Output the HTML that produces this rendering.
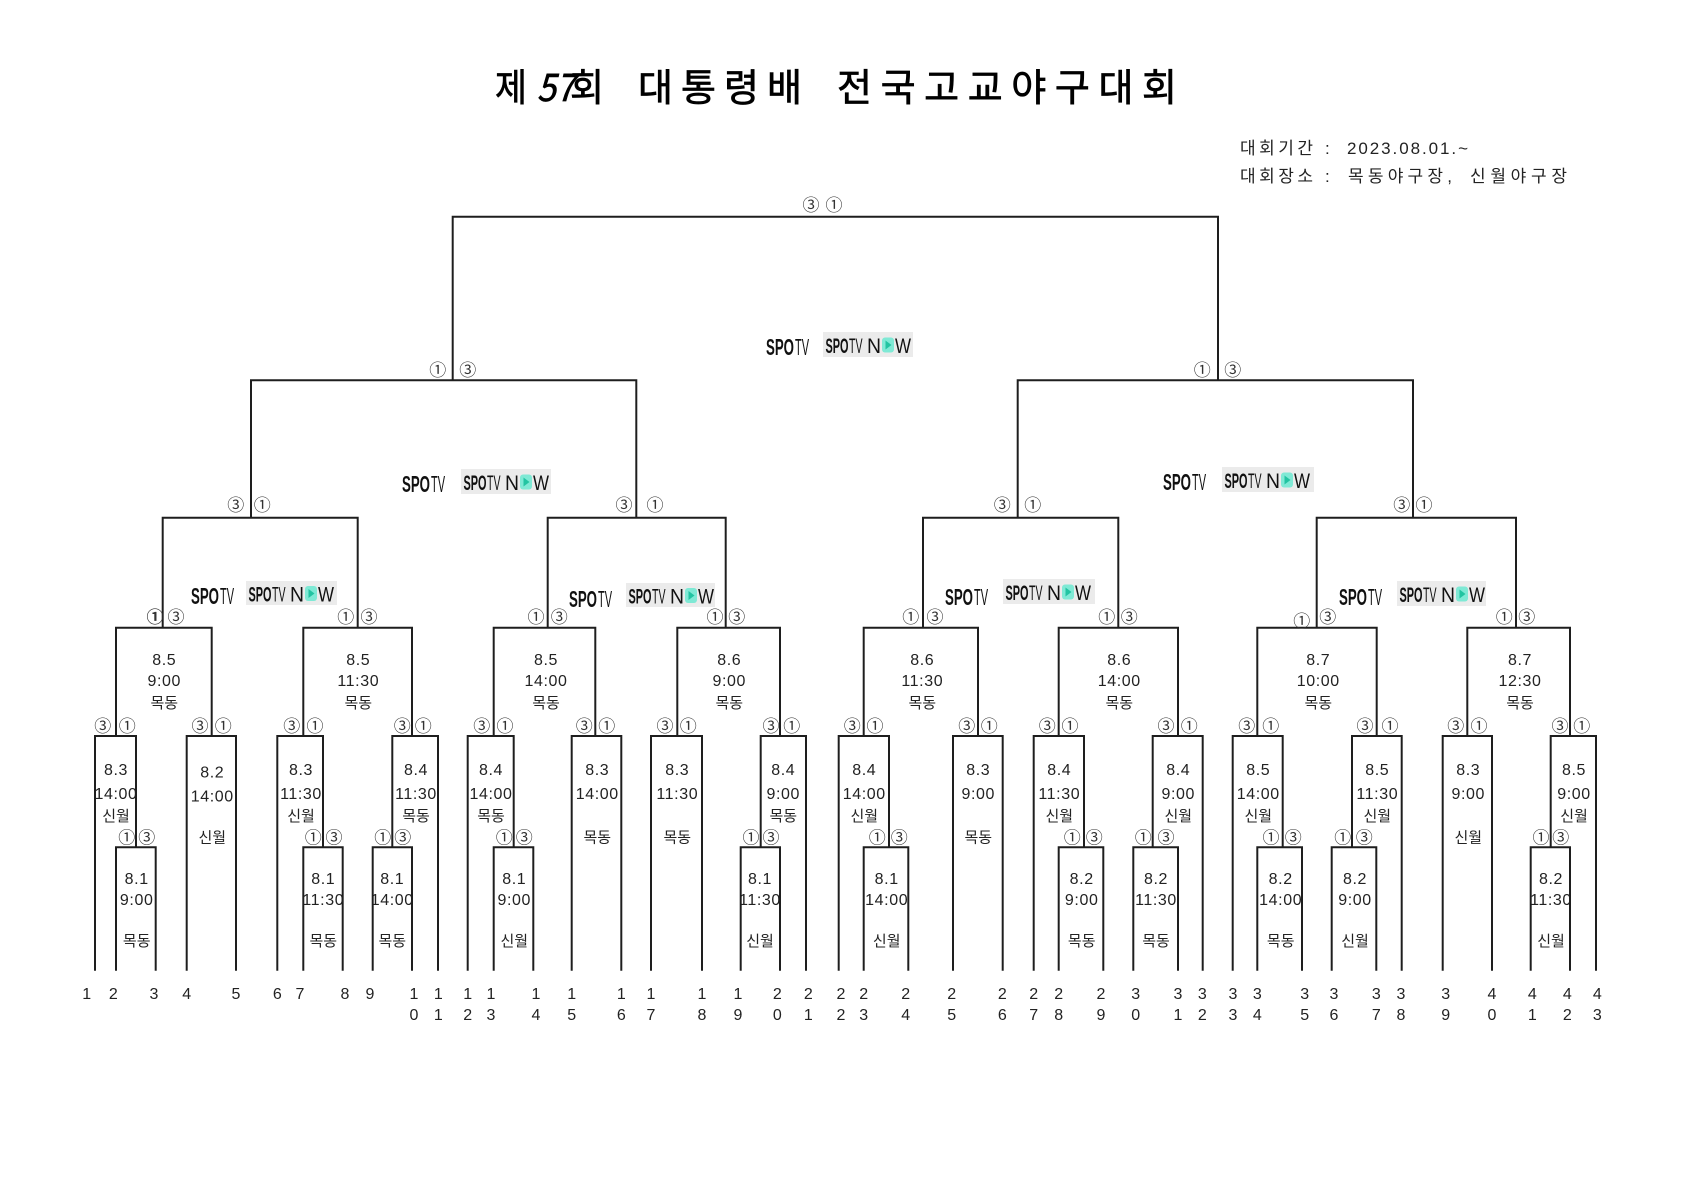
<!DOCTYPE html>
<html>
<head>
<meta charset="utf-8">
<style>
html,body{margin:0;padding:0;background:#fff;}
svg{display:block;}
.t{font-family:"Liberation Sans","Noto Sans CJK KR",sans-serif;font-size:16px;fill:#222;text-anchor:middle;letter-spacing:0.6px;}
.k{font-family:"Liberation Sans","Noto Sans CJK KR",sans-serif;font-size:15px;fill:#222;text-anchor:middle;}
.c{font-family:"Noto Sans CJK KR","Liberation Sans",sans-serif;font-size:17px;fill:#333;text-anchor:middle;}
.n{font-family:"Liberation Sans","Noto Sans CJK KR",sans-serif;font-size:16px;fill:#222;text-anchor:middle;}
.h{font-family:"Liberation Sans","Noto Sans CJK KR",sans-serif;font-size:17px;fill:#222;}
.ti{font-family:"Noto Sans CJK KR","Liberation Sans",sans-serif;font-size:38px;fill:#000;stroke:#000;stroke-width:0.7;}
.lg{font-family:"Liberation Sans Narrow","Liberation Sans",sans-serif;fill:#111;}
</style>
</head>
<body>
<svg width="1684" height="1191" viewBox="0 0 1684 1191" xmlns="http://www.w3.org/2000/svg">
<rect width="1684" height="1191" fill="#fff"/>

<!-- Title -->
<text class="ti" x="495" y="101" textLength="32" lengthAdjust="spacingAndGlyphs">제</text>
<text class="ti" x="537" y="101" textLength="38" lengthAdjust="spacingAndGlyphs" font-style="italic">57</text>
<text class="ti" x="570" y="101" textLength="34" lengthAdjust="spacingAndGlyphs">회</text>
<text class="ti" x="638" y="101" textLength="164" lengthAdjust="spacing">대통령배</text>
<text class="ti" x="837" y="101" textLength="340" lengthAdjust="spacing">전국고교야구대회</text>

<!-- Info -->
<text class="h" x="1240" y="154" textLength="73" lengthAdjust="spacing">대회기간</text>
<text class="h" x="1325" y="154">:</text>
<text class="h" x="1347" y="154" textLength="121" lengthAdjust="spacing">2023.08.01.~</text>
<text class="h" x="1240" y="182" textLength="73" lengthAdjust="spacing">대회장소</text>
<text class="h" x="1325" y="182">:</text>
<text class="h" x="1348" y="182" textLength="104" lengthAdjust="spacing">목동야구장,</text>
<text class="h" x="1470" y="182" textLength="97" lengthAdjust="spacing">신월야구장</text>

<!-- Logos -->
<g id="logos">
  <g transform="translate(766,338)">
    <text class="lg" x="0" y="17" font-size="23" font-weight="bold" textLength="28" lengthAdjust="spacingAndGlyphs">SPO</text>
    <text class="lg" x="29" y="17" font-size="23" textLength="14" lengthAdjust="spacingAndGlyphs">TV</text>
  </g>
  <g transform="translate(823,332)">
    <rect width="90" height="25" fill="#ebebeb"/>
    <text class="lg" x="2.5" y="21" font-size="21" font-weight="bold" textLength="23" lengthAdjust="spacingAndGlyphs">SPO</text>
    <text class="lg" x="26" y="21" font-size="21" textLength="13.5" lengthAdjust="spacingAndGlyphs">TV</text>
    <text class="lg" x="44" y="21" font-size="21" textLength="14" lengthAdjust="spacingAndGlyphs">N</text>
    <rect x="59" y="5.5" width="12" height="15" rx="3" fill="#7fe9d5"/>
    <path d="M62.5,8.5 L68.5,13 L62.5,17.5 Z" fill="#22c4a2"/>
    <text class="lg" x="72" y="21" font-size="21" textLength="16" lengthAdjust="spacingAndGlyphs">W</text>
  </g>
  <g transform="translate(402,475)">
    <text class="lg" x="0" y="17" font-size="23" font-weight="bold" textLength="28" lengthAdjust="spacingAndGlyphs">SPO</text>
    <text class="lg" x="29" y="17" font-size="23" textLength="14" lengthAdjust="spacingAndGlyphs">TV</text>
  </g>
  <g transform="translate(461,469)">
    <rect width="90" height="25" fill="#ebebeb"/>
    <text class="lg" x="2.5" y="21" font-size="21" font-weight="bold" textLength="23" lengthAdjust="spacingAndGlyphs">SPO</text>
    <text class="lg" x="26" y="21" font-size="21" textLength="13.5" lengthAdjust="spacingAndGlyphs">TV</text>
    <text class="lg" x="44" y="21" font-size="21" textLength="14" lengthAdjust="spacingAndGlyphs">N</text>
    <rect x="59" y="5.5" width="12" height="15" rx="3" fill="#7fe9d5"/>
    <path d="M62.5,8.5 L68.5,13 L62.5,17.5 Z" fill="#22c4a2"/>
    <text class="lg" x="72" y="21" font-size="21" textLength="16" lengthAdjust="spacingAndGlyphs">W</text>
  </g>
  <g transform="translate(1163,473)">
    <text class="lg" x="0" y="17" font-size="23" font-weight="bold" textLength="28" lengthAdjust="spacingAndGlyphs">SPO</text>
    <text class="lg" x="29" y="17" font-size="23" textLength="14" lengthAdjust="spacingAndGlyphs">TV</text>
  </g>
  <g transform="translate(1222,467)">
    <rect width="92" height="25" fill="#ebebeb"/>
    <text class="lg" x="2.5" y="21" font-size="21" font-weight="bold" textLength="23" lengthAdjust="spacingAndGlyphs">SPO</text>
    <text class="lg" x="26" y="21" font-size="21" textLength="13.5" lengthAdjust="spacingAndGlyphs">TV</text>
    <text class="lg" x="44" y="21" font-size="21" textLength="14" lengthAdjust="spacingAndGlyphs">N</text>
    <rect x="59" y="5.5" width="12" height="15" rx="3" fill="#7fe9d5"/>
    <path d="M62.5,8.5 L68.5,13 L62.5,17.5 Z" fill="#22c4a2"/>
    <text class="lg" x="72" y="21" font-size="21" textLength="16" lengthAdjust="spacingAndGlyphs">W</text>
  </g>
  <g transform="translate(191,587)">
    <text class="lg" x="0" y="17" font-size="23" font-weight="bold" textLength="28" lengthAdjust="spacingAndGlyphs">SPO</text>
    <text class="lg" x="29" y="17" font-size="23" textLength="14" lengthAdjust="spacingAndGlyphs">TV</text>
  </g>
  <g transform="translate(246,581)">
    <rect width="91" height="24" fill="#ebebeb"/>
    <text class="lg" x="2.5" y="20.5" font-size="21" font-weight="bold" textLength="23" lengthAdjust="spacingAndGlyphs">SPO</text>
    <text class="lg" x="26" y="20.5" font-size="21" textLength="13.5" lengthAdjust="spacingAndGlyphs">TV</text>
    <text class="lg" x="44" y="20.5" font-size="21" textLength="14" lengthAdjust="spacingAndGlyphs">N</text>
    <rect x="59" y="5" width="12" height="15" rx="3" fill="#7fe9d5"/>
    <path d="M62.5,8 L68.5,12.5 L62.5,17 Z" fill="#22c4a2"/>
    <text class="lg" x="72" y="20.5" font-size="21" textLength="16" lengthAdjust="spacingAndGlyphs">W</text>
  </g>
  <g transform="translate(569,590)">
    <text class="lg" x="0" y="17" font-size="23" font-weight="bold" textLength="28" lengthAdjust="spacingAndGlyphs">SPO</text>
    <text class="lg" x="29" y="17" font-size="23" textLength="14" lengthAdjust="spacingAndGlyphs">TV</text>
  </g>
  <g transform="translate(626,583)">
    <rect width="89" height="24" fill="#ebebeb"/>
    <text class="lg" x="2.5" y="20.5" font-size="21" font-weight="bold" textLength="23" lengthAdjust="spacingAndGlyphs">SPO</text>
    <text class="lg" x="26" y="20.5" font-size="21" textLength="13.5" lengthAdjust="spacingAndGlyphs">TV</text>
    <text class="lg" x="44" y="20.5" font-size="21" textLength="14" lengthAdjust="spacingAndGlyphs">N</text>
    <rect x="59" y="5" width="12" height="15" rx="3" fill="#7fe9d5"/>
    <path d="M62.5,8 L68.5,12.5 L62.5,17 Z" fill="#22c4a2"/>
    <text class="lg" x="72" y="20.5" font-size="21" textLength="16" lengthAdjust="spacingAndGlyphs">W</text>
  </g>
  <g transform="translate(945,588)">
    <text class="lg" x="0" y="17" font-size="23" font-weight="bold" textLength="28" lengthAdjust="spacingAndGlyphs">SPO</text>
    <text class="lg" x="29" y="17" font-size="23" textLength="14" lengthAdjust="spacingAndGlyphs">TV</text>
  </g>
  <g transform="translate(1003,579)">
    <rect width="92" height="25" fill="#ebebeb"/>
    <text class="lg" x="2.5" y="21" font-size="21" font-weight="bold" textLength="23" lengthAdjust="spacingAndGlyphs">SPO</text>
    <text class="lg" x="26" y="21" font-size="21" textLength="13.5" lengthAdjust="spacingAndGlyphs">TV</text>
    <text class="lg" x="44" y="21" font-size="21" textLength="14" lengthAdjust="spacingAndGlyphs">N</text>
    <rect x="59" y="5.5" width="12" height="15" rx="3" fill="#7fe9d5"/>
    <path d="M62.5,8.5 L68.5,13 L62.5,17.5 Z" fill="#22c4a2"/>
    <text class="lg" x="72" y="21" font-size="21" textLength="16" lengthAdjust="spacingAndGlyphs">W</text>
  </g>
  <g transform="translate(1339,588)">
    <text class="lg" x="0" y="17" font-size="23" font-weight="bold" textLength="28" lengthAdjust="spacingAndGlyphs">SPO</text>
    <text class="lg" x="29" y="17" font-size="23" textLength="14" lengthAdjust="spacingAndGlyphs">TV</text>
  </g>
  <g transform="translate(1397,581)">
    <rect width="89" height="25" fill="#ebebeb"/>
    <text class="lg" x="2.5" y="21" font-size="21" font-weight="bold" textLength="23" lengthAdjust="spacingAndGlyphs">SPO</text>
    <text class="lg" x="26" y="21" font-size="21" textLength="13.5" lengthAdjust="spacingAndGlyphs">TV</text>
    <text class="lg" x="44" y="21" font-size="21" textLength="14" lengthAdjust="spacingAndGlyphs">N</text>
    <rect x="59" y="5.5" width="12" height="15" rx="3" fill="#7fe9d5"/>
    <path d="M62.5,8.5 L68.5,13 L62.5,17.5 Z" fill="#22c4a2"/>
    <text class="lg" x="72" y="21" font-size="21" textLength="16" lengthAdjust="spacingAndGlyphs">W</text>
  </g>
</g>

<!-- Box texts: C level -->
<g>
<text class="t" x="164.3" y="665">8.5</text><text class="t" x="164.3" y="686">9:00</text><text class="k" x="164.3" y="708">목동</text>
<text class="t" x="358.3" y="665">8.5</text><text class="t" x="358.3" y="686">11:30</text><text class="k" x="358.3" y="708">목동</text>
<text class="t" x="546" y="665">8.5</text><text class="t" x="546" y="686">14:00</text><text class="k" x="546" y="708">목동</text>
<text class="t" x="729.3" y="665">8.6</text><text class="t" x="729.3" y="686">9:00</text><text class="k" x="729.3" y="708">목동</text>
<text class="t" x="922.3" y="665">8.6</text><text class="t" x="922.3" y="686">11:30</text><text class="k" x="922.3" y="708">목동</text>
<text class="t" x="1119.3" y="665">8.6</text><text class="t" x="1119.3" y="686">14:00</text><text class="k" x="1119.3" y="708">목동</text>
<text class="t" x="1318.3" y="665">8.7</text><text class="t" x="1318.3" y="686">10:00</text><text class="k" x="1318.3" y="708">목동</text>
<text class="t" x="1520" y="665">8.7</text><text class="t" x="1520" y="686">12:30</text><text class="k" x="1520" y="708">목동</text>
</g>

<!-- B level type 1 -->
<g>
<text class="t" x="116" y="775">8.3</text><text class="t" x="116" y="799">14:00</text><text class="k" x="116" y="821">신월</text>
<text class="t" x="301" y="775">8.3</text><text class="t" x="301" y="799">11:30</text><text class="k" x="301" y="821">신월</text>
<text class="t" x="416" y="775">8.4</text><text class="t" x="416" y="799">11:30</text><text class="k" x="416" y="821">목동</text>
<text class="t" x="491" y="775">8.4</text><text class="t" x="491" y="799">14:00</text><text class="k" x="491" y="821">목동</text>
<text class="t" x="783.3" y="775">8.4</text><text class="t" x="783.3" y="799">9:00</text><text class="k" x="783.3" y="821">목동</text>
<text class="t" x="864.3" y="775">8.4</text><text class="t" x="864.3" y="799">14:00</text><text class="k" x="864.3" y="821">신월</text>
<text class="t" x="1059.3" y="775">8.4</text><text class="t" x="1059.3" y="799">11:30</text><text class="k" x="1059.3" y="821">신월</text>
<text class="t" x="1178.3" y="775">8.4</text><text class="t" x="1178.3" y="799">9:00</text><text class="k" x="1178.3" y="821">신월</text>
<text class="t" x="1258.3" y="775">8.5</text><text class="t" x="1258.3" y="799">14:00</text><text class="k" x="1258.3" y="821">신월</text>
<text class="t" x="1377.3" y="775">8.5</text><text class="t" x="1377.3" y="799">11:30</text><text class="k" x="1377.3" y="821">신월</text>
<text class="t" x="1574" y="775">8.5</text><text class="t" x="1574" y="799">9:00</text><text class="k" x="1574" y="821">신월</text>
</g>
<!-- B level type 2 -->
<g>
<text class="t" x="212.3" y="777.5">8.2</text><text class="t" x="212.3" y="801.5">14:00</text><text class="k" x="212.3" y="842.5">신월</text>
<text class="t" x="597.3" y="775">8.3</text><text class="t" x="597.3" y="799">14:00</text><text class="k" x="597.3" y="842.5">목동</text>
<text class="t" x="677.3" y="775">8.3</text><text class="t" x="677.3" y="799">11:30</text><text class="k" x="677.3" y="842.5">목동</text>
<text class="t" x="978.3" y="775">8.3</text><text class="t" x="978.3" y="799">9:00</text><text class="k" x="978.3" y="842.5">목동</text>
<text class="t" x="1468.3" y="775">8.3</text><text class="t" x="1468.3" y="799">9:00</text><text class="k" x="1468.3" y="842.5">신월</text>
</g>
<!-- A level -->
<g>
<text class="t" x="136.7" y="884">8.1</text><text class="t" x="136.7" y="905">9:00</text><text class="k" x="136.7" y="946">목동</text>
<text class="t" x="323.3" y="884">8.1</text><text class="t" x="323.3" y="905">11:30</text><text class="k" x="323.3" y="946">목동</text>
<text class="t" x="392.3" y="884">8.1</text><text class="t" x="392.3" y="905">14:00</text><text class="k" x="392.3" y="946">목동</text>
<text class="t" x="514.3" y="884">8.1</text><text class="t" x="514.3" y="905">9:00</text><text class="k" x="514.3" y="946">신월</text>
<text class="t" x="760" y="884">8.1</text><text class="t" x="760" y="905">11:30</text><text class="k" x="760" y="946">신월</text>
<text class="t" x="886.7" y="884">8.1</text><text class="t" x="886.7" y="905">14:00</text><text class="k" x="886.7" y="946">신월</text>
<text class="t" x="1081.7" y="884">8.2</text><text class="t" x="1081.7" y="905">9:00</text><text class="k" x="1081.7" y="946">목동</text>
<text class="t" x="1156" y="884">8.2</text><text class="t" x="1156" y="905">11:30</text><text class="k" x="1156" y="946">목동</text>
<text class="t" x="1280.7" y="884">8.2</text><text class="t" x="1280.7" y="905">14:00</text><text class="k" x="1280.7" y="946">목동</text>
<text class="t" x="1355" y="884">8.2</text><text class="t" x="1355" y="905">9:00</text><text class="k" x="1355" y="946">신월</text>
<text class="t" x="1551" y="884">8.2</text><text class="t" x="1551" y="905">11:30</text><text class="k" x="1551" y="946">신월</text>
</g>

<!-- Bracket lines -->
<g fill="none" stroke="#1e1e1e" stroke-width="2" stroke-linejoin="miter">
<path d="M116,970.7V847.3H155.7V970.7"/>
<path d="M303.3,970.7V847.3H342.7V970.7"/>
<path d="M372.7,970.7V847.3H412V970.7"/>
<path d="M493.7,970.7V847.3H533.3V970.7"/>
<path d="M740.7,970.7V847.3H780V970.7"/>
<path d="M863.7,970.7V847.3H908.3V970.7"/>
<path d="M1058.7,970.7V847.3H1103.3V970.7"/>
<path d="M1133.3,970.7V847.3H1178V970.7"/>
<path d="M1257.3,970.7V847.3H1302V970.7"/>
<path d="M1331.7,970.7V847.3H1376.3V970.7"/>
<path d="M1530.7,970.7V847.3H1570V970.7"/>

<path d="M95,970.7V736H136V847.3"/>
<path d="M186.7,970.7V736H236V970.7"/>
<path d="M277.3,970.7V736H323V847.3"/>
<path d="M392.3,847.3V736H438V970.7"/>
<path d="M467.7,970.7V736H513.7V847.3"/>
<path d="M571.7,970.7V736H621.3V970.7"/>
<path d="M651,970.7V736H702V970.7"/>
<path d="M760.7,847.3V736H806V970.7"/>
<path d="M838.7,970.7V736H889V847.3"/>
<path d="M953,970.7V736H1002.7V970.7"/>
<path d="M1033.7,970.7V736H1084V847.3"/>
<path d="M1152.7,847.3V736H1202.7V970.7"/>
<path d="M1232.7,970.7V736H1282.7V847.3"/>
<path d="M1352,847.3V736H1401.7V970.7"/>
<path d="M1442.7,970.7V736H1492V970.7"/>
<path d="M1550.7,847.3V736H1596V970.7"/>

<path d="M116,736V627.7H211.7V736"/>
<path d="M303.3,736V627.7H412V736"/>
<path d="M493.7,736V627.7H595.3V736"/>
<path d="M677.3,736V627.7H780V736"/>
<path d="M863.7,736V627.7H978V736"/>
<path d="M1058.7,736V627.7H1178V736"/>
<path d="M1257.3,736V627.7H1376.7V736"/>
<path d="M1467.3,736V627.7H1570V736"/>

<path d="M162.7,627.7V517.7H357.7V627.7"/>
<path d="M547.7,627.7V517.7H725.7V627.7"/>
<path d="M923,627.7V517.7H1118.3V627.7"/>
<path d="M1316.7,627.7V517.7H1516V627.7"/>

<path d="M251,517.7V380.3H636.3V517.7"/>
<path d="M1017.7,517.7V380.3H1413V517.7"/>

<path d="M452.7,380.3V216.7H1218V380.3"/>
</g>

<!-- Circled labels -->
<g>
<text class="c" x="811" y="211">③</text><text class="c" x="834" y="211">①</text>

<text class="c" x="437.7" y="376">①</text><text class="c" x="467.7" y="376">③</text>
<text class="c" x="1202.3" y="376">①</text><text class="c" x="1232.7" y="376">③</text>

<text class="c" x="235.7" y="511">③</text><text class="c" x="262.3" y="511">①</text>
<text class="c" x="624" y="511">③</text><text class="c" x="655" y="511">①</text>
<text class="c" x="1002.3" y="511">③</text><text class="c" x="1032.7" y="511">①</text>
<text class="c" x="1401.7" y="511">③</text><text class="c" x="1424" y="511">①</text>

<text class="c" x="155" y="623" font-weight="bold">①</text><text class="c" x="176" y="623">③</text>
<text class="c" x="345.7" y="623">①</text><text class="c" x="369" y="623">③</text>
<text class="c" x="536" y="623">①</text><text class="c" x="559.3" y="623">③</text>
<text class="c" x="715" y="623">①</text><text class="c" x="736.7" y="623">③</text>
<text class="c" x="910.7" y="623">①</text><text class="c" x="935" y="623">③</text>
<text class="c" x="1106.7" y="623">①</text><text class="c" x="1129.3" y="623">③</text>
<text class="c" x="1301.7" y="627">①</text><text class="c" x="1327.7" y="623">③</text>
<text class="c" x="1504.3" y="623">①</text><text class="c" x="1526.7" y="623">③</text>

<text class="c" x="102.7" y="732">③</text><text class="c" x="127.3" y="732">①</text>
<text class="c" x="200" y="732">③</text><text class="c" x="223.3" y="732">①</text>
<text class="c" x="291.7" y="732">③</text><text class="c" x="315" y="732">①</text>
<text class="c" x="402.3" y="732">③</text><text class="c" x="423.3" y="732">①</text>
<text class="c" x="481.7" y="732">③</text><text class="c" x="505" y="732">①</text>
<text class="c" x="584.3" y="732">③</text><text class="c" x="606.7" y="732">①</text>
<text class="c" x="665" y="732">③</text><text class="c" x="688.3" y="732">①</text>
<text class="c" x="771" y="732">③</text><text class="c" x="791.7" y="732">①</text>
<text class="c" x="852.3" y="732">③</text><text class="c" x="875" y="732">①</text>
<text class="c" x="966.7" y="732">③</text><text class="c" x="989.3" y="732">①</text>
<text class="c" x="1047.3" y="732">③</text><text class="c" x="1070" y="732">①</text>
<text class="c" x="1166" y="732">③</text><text class="c" x="1189.3" y="732">①</text>
<text class="c" x="1246.7" y="732">③</text><text class="c" x="1270.7" y="732">①</text>
<text class="c" x="1365" y="732">③</text><text class="c" x="1390" y="732">①</text>
<text class="c" x="1455.7" y="732">③</text><text class="c" x="1479" y="732">①</text>
<text class="c" x="1560" y="732">③</text><text class="c" x="1581.7" y="732">①</text>

<text class="c" x="126.7" y="843.3">①</text><text class="c" x="146.7" y="843.3">③</text>
<text class="c" x="313.3" y="843.3">①</text><text class="c" x="334" y="843.3">③</text>
<text class="c" x="382.7" y="843.3">①</text><text class="c" x="402.7" y="843.3">③</text>
<text class="c" x="504.3" y="843.3">①</text><text class="c" x="524.3" y="843.3">③</text>
<text class="c" x="751" y="843.3">①</text><text class="c" x="771" y="843.3">③</text>
<text class="c" x="877.3" y="843.3">①</text><text class="c" x="899.3" y="843.3">③</text>
<text class="c" x="1072.3" y="843.3">①</text><text class="c" x="1094.3" y="843.3">③</text>
<text class="c" x="1143.3" y="843.3">①</text><text class="c" x="1166" y="843.3">③</text>
<text class="c" x="1271" y="843.3">①</text><text class="c" x="1293.3" y="843.3">③</text>
<text class="c" x="1342.7" y="843.3">①</text><text class="c" x="1364.3" y="843.3">③</text>
<text class="c" x="1541" y="843.3">①</text><text class="c" x="1560.7" y="843.3">③</text>
</g>

<!-- Bottom numbers -->
<g>
<text class="n" x="86.7" y="999">1</text>
<text class="n" x="113.3" y="999">2</text>
<text class="n" x="154" y="999">3</text>
<text class="n" x="186.7" y="999">4</text>
<text class="n" x="236" y="999">5</text>
<text class="n" x="277.3" y="999">6</text>
<text class="n" x="300" y="999">7</text>
<text class="n" x="345" y="999">8</text>
<text class="n" x="370" y="999">9</text>
<text class="n" x="414" y="999">1</text><text class="n" x="414" y="1020">0</text>
<text class="n" x="438.3" y="999">1</text><text class="n" x="438.3" y="1020">1</text>
<text class="n" x="467.7" y="999">1</text><text class="n" x="467.7" y="1020">2</text>
<text class="n" x="491" y="999">1</text><text class="n" x="491" y="1020">3</text>
<text class="n" x="536" y="999">1</text><text class="n" x="536" y="1020">4</text>
<text class="n" x="571.7" y="999">1</text><text class="n" x="571.7" y="1020">5</text>
<text class="n" x="621.3" y="999">1</text><text class="n" x="621.3" y="1020">6</text>
<text class="n" x="651" y="999">1</text><text class="n" x="651" y="1020">7</text>
<text class="n" x="702" y="999">1</text><text class="n" x="702" y="1020">8</text>
<text class="n" x="738" y="999">1</text><text class="n" x="738" y="1020">9</text>
<text class="n" x="777.3" y="999">2</text><text class="n" x="777.3" y="1020">0</text>
<text class="n" x="808.3" y="999">2</text><text class="n" x="808.3" y="1020">1</text>
<text class="n" x="841" y="999">2</text><text class="n" x="841" y="1020">2</text>
<text class="n" x="863.7" y="999">2</text><text class="n" x="863.7" y="1020">3</text>
<text class="n" x="905.7" y="999">2</text><text class="n" x="905.7" y="1020">4</text>
<text class="n" x="951.7" y="999">2</text><text class="n" x="951.7" y="1020">5</text>
<text class="n" x="1002.3" y="999">2</text><text class="n" x="1002.3" y="1020">6</text>
<text class="n" x="1033.7" y="999">2</text><text class="n" x="1033.7" y="1020">7</text>
<text class="n" x="1058.7" y="999">2</text><text class="n" x="1058.7" y="1020">8</text>
<text class="n" x="1101" y="999">2</text><text class="n" x="1101" y="1020">9</text>
<text class="n" x="1135.7" y="999">3</text><text class="n" x="1135.7" y="1020">0</text>
<text class="n" x="1178" y="999">3</text><text class="n" x="1178" y="1020">1</text>
<text class="n" x="1202.3" y="999">3</text><text class="n" x="1202.3" y="1020">2</text>
<text class="n" x="1233" y="999">3</text><text class="n" x="1233" y="1020">3</text>
<text class="n" x="1257.3" y="999">3</text><text class="n" x="1257.3" y="1020">4</text>
<text class="n" x="1304.7" y="999">3</text><text class="n" x="1304.7" y="1020">5</text>
<text class="n" x="1334" y="999">3</text><text class="n" x="1334" y="1020">6</text>
<text class="n" x="1376.3" y="999">3</text><text class="n" x="1376.3" y="1020">7</text>
<text class="n" x="1401" y="999">3</text><text class="n" x="1401" y="1020">8</text>
<text class="n" x="1445.7" y="999">3</text><text class="n" x="1445.7" y="1020">9</text>
<text class="n" x="1492" y="999">4</text><text class="n" x="1492" y="1020">0</text>
<text class="n" x="1532.3" y="999">4</text><text class="n" x="1532.3" y="1020">1</text>
<text class="n" x="1567.3" y="999">4</text><text class="n" x="1567.3" y="1020">2</text>
<text class="n" x="1597.3" y="999">4</text><text class="n" x="1597.3" y="1020">3</text>
</g>
</svg>
</body>
</html>
